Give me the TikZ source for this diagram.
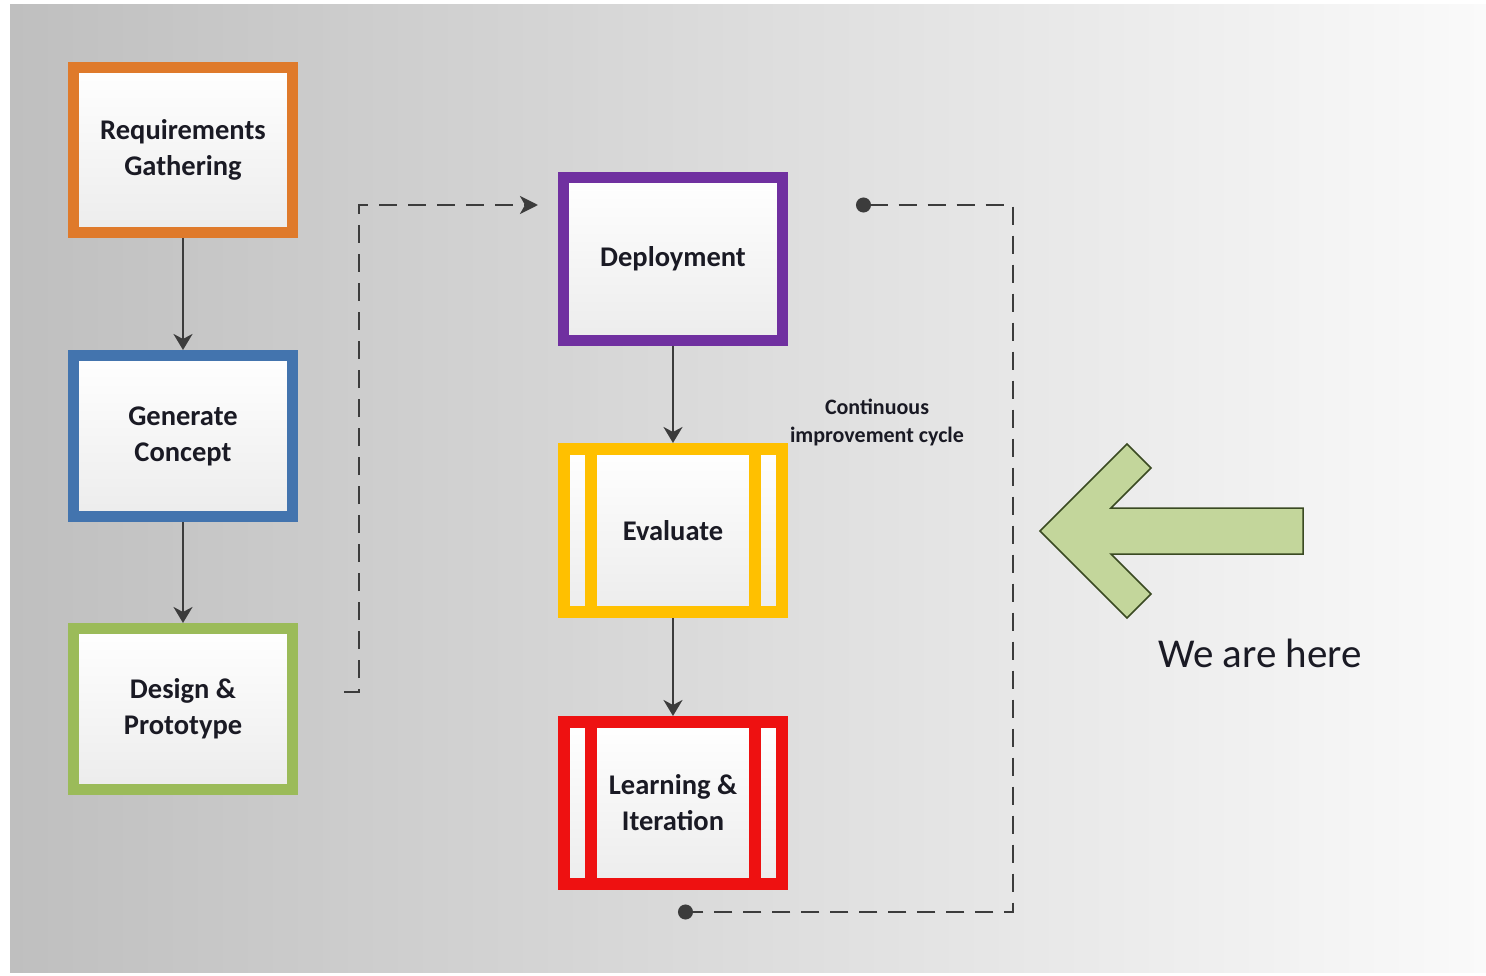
\documentclass[tikz,border=0pt]{standalone}
\usepackage{fontspec}
\setmainfont{Carlito}
\usetikzlibrary{arrows.meta}
\definecolor{bgL}{HTML}{BFBFBF}
\definecolor{bgR}{HTML}{FAFAFA}
\definecolor{boxbot}{HTML}{ECECEC}
\definecolor{txt}{HTML}{1A1A24}
\definecolor{lineclr}{HTML}{3C3C3C}
\definecolor{cOrange}{HTML}{DF7A2B}
\definecolor{cBlue}{HTML}{4374AE}
\definecolor{cGreen}{HTML}{9BBB59}
\definecolor{cPurple}{HTML}{7030A0}
\definecolor{cYellow}{HTML}{FFC000}
\definecolor{cRed}{HTML}{EE1111}
\definecolor{arrFill}{HTML}{C3D69B}
\definecolor{arrLine}{HTML}{3A4A22}
\tikzset{
  box/.style={rectangle, line width=11pt, top color=white, bottom color=boxbot,
    minimum width=219pt, align=center, inner sep=0pt, text=txt,
    font=\fontsize{28.5}{36}\selectfont\bfseries},
  conn/.style={draw=lineclr, line width=2.6pt, -{Stealth[length=16pt, width=19pt, inset=5pt]}},
  dconn/.style={draw=lineclr, line width=2.8pt, dash pattern=on 18pt off 11pt,
    -{Stealth[length=18pt, width=18pt, inset=5pt]}},
  dloop/.style={draw=lineclr, line width=2.8pt, dash pattern=on 18pt off 11pt,
    {Circle[length=15pt]}-{Circle[length=15pt]}},
  bar/.style={line width=12pt},
  lbl/.style={text=txt, inner sep=0pt, align=center}
}
\begin{document}
\begin{tikzpicture}[x=1pt,y=-1pt]
\useasboundingbox (0,0) rectangle (1486,976);
\fill[white] (0,0) rectangle (1486,976);
\shade[left color=bgL, right color=bgR] (10,5) rectangle (1486,972);

% left column
\node[box, draw=cOrange, minimum height=165pt] (req) at (183,150) {Requirements\\Gathering};
\node[box, draw=cBlue, minimum height=161pt] (gen) at (183,436) {Generate\\Concept};
\node[box, draw=cGreen, minimum height=161pt] (des) at (183,709) {Design \&\\Prototype};

% middle column
\node[box, draw=cPurple, minimum height=163pt] (dep) at (673,259) {Deployment};
\node[box, draw=cYellow, line width=12pt, minimum width=218pt, minimum height=163pt] (eva) at (673,530.5) {Evaluate};
\draw[bar, cYellow] (591,449) -- (591,612);
\draw[bar, cYellow] (754.5,449) -- (754.5,612);
\node[box, draw=cRed, line width=12pt, minimum width=218pt, minimum height=162pt] (lea) at (673,803) {Learning \&\\Iteration};
\draw[bar, cRed] (591,722) -- (591,884);
\draw[bar, cRed] (754.5,722) -- (754.5,884);

% solid connectors
\draw[conn] (req) -- (gen);
\draw[conn] (gen) -- (des);
\draw[conn] (dep) -- (eva);
\draw[conn] (eva) -- (lea);

% dashed connector to deployment
\coordinate (d1s) at (344,692);
\coordinate (d1e) at (538,205);
\draw[dconn] (d1s) -- (359,692) -- (359,205) -- (d1e);

% continuous improvement loop
\coordinate (l1s) at (856,205);
\coordinate (l1e) at (678,912);
\draw[dloop] (l1s) -- (1013,205) -- (1013,912) -- (l1e);
\node[lbl, font=\fontsize{22}{28}\selectfont\bfseries] (cic) at (877,422) {Continuous\\improvement cycle};

% we are here arrow
\draw[fill=arrFill, draw=arrLine, line width=1.5pt, line join=miter]
  (1040,531) -- (1127,444) -- (1151,468) -- (1111,508) -- (1303,508)
  -- (1303,554) -- (1111,554) -- (1151,594) -- (1127,618) -- cycle;
\node[lbl, font=\fontsize{41}{48}\selectfont] (here) at (1260,653) {We are here};
\end{tikzpicture}
\end{document}
